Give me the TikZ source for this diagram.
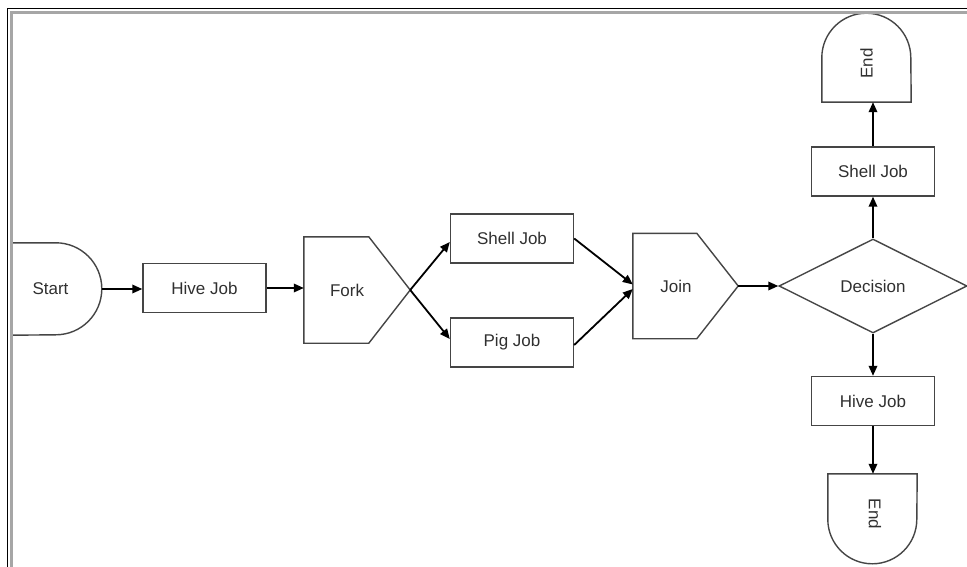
\documentclass[tikz,border=0pt]{standalone}
\usepackage{fontspec}
\setmainfont{Liberation Sans}
\usetikzlibrary{arrows.meta,shapes.geometric}
\definecolor{outline}{HTML}{454545}
\definecolor{labeltext}{HTML}{303030}
\definecolor{framegray}{HTML}{A6A6A6}
\begin{document}
\begin{tikzpicture}[x=1pt,y=-1pt,
  every node/.style={font=\fontsize{17}{20}\selectfont, text=labeltext, inner sep=0pt},
  outlined/.style={draw=outline, line width=1.4pt},
  jobbox/.style={outlined, rectangle, minimum width=123pt, minimum height=49pt},
  flow/.style={draw=black, line width=1.8pt, -{Triangle[length=10pt,width=8.5pt]}},
  shapeline/.style={draw=outline, line width=1.4pt, line join=miter}]
\useasboundingbox (0,0) rectangle (967,567);

% ---- node frames (outlines of the special shapes are drawn below)
\node[rectangle, minimum width=90pt, minimum height=92pt,
      label={[xshift=-6.5pt]center:Start}] (start) at (57,289) {};
\node[jobbox] (hive1) at (204.5,288) {Hive Job};
\node[rectangle, minimum width=106pt, minimum height=106pt,
      label={[xshift=-10pt]center:Fork}] (fork) at (357,290) {};
\node[jobbox] (shell1) at (512,238.5) {Shell Job};
\node[jobbox] (pig) at (512,342.5) {Pig Job};
\node[rectangle, minimum width=105pt, minimum height=105pt,
      label={[xshift=-9.5pt]center:Join}] (join) at (685.5,286) {};
\node[diamond, outlined, minimum width=188pt, minimum height=94pt] (dec) at (873,286) {Decision};
\node[jobbox] (shell2) at (873,171.5) {Shell Job};
\node[jobbox] (hive2) at (873,401) {Hive Job};
\node[rectangle, minimum width=89pt, minimum height=89pt,
      label={[yshift=-6pt,rotate=90]center:End}] (endA) at (866.5,57.5) {};
\node[rectangle, minimum width=89pt, minimum height=90pt,
      label={[xshift=2.5pt,yshift=5pt,rotate=-90]center:End}] (endB) at (872.5,519) {};

% ---- special shapes
\path[shapeline] (start.north west) -- ++(44pt,0)
  arc[start angle=90, end angle=-90, radius=46pt] -- (start.south west) -- cycle;
\path[shapeline] (fork.north west) -- ++(65pt,0) -- (fork.east)
  -- ([xshift=65pt]fork.south west) -- (fork.south west) -- cycle;
\path[shapeline] (join.north west) -- ++(64pt,0) -- (join.east)
  -- ([xshift=64pt]join.south west) -- (join.south west) -- cycle;
\path[shapeline] (endA.south west) -- ++(0,44.5pt)
  arc[start angle=180, end angle=0, radius=44.5pt] -- (endA.south east) -- cycle;
\path[shapeline] (endB.north west) -- ++(0,-45.5pt)
  arc[start angle=180, end angle=360, radius=44.5pt] -- (endB.north east) -- cycle;

% ---- connectors
\draw[flow] (start.east) -- (start.east -| hive1.west);
\draw[flow] (hive1.east) -- (hive1.east -| fork.west);
\draw[flow] (fork.east) -- ([yshift=-3.5pt]shell1.west);
\draw[flow] (fork.east) -- ([yshift=3.5pt]pig.west);
\draw[flow] (shell1.east) -- ([yshift=1.5pt]join.west);
\draw[flow] ([yshift=-2.5pt]pig.east) -- ([yshift=-3pt]join.west);
\draw[flow] (join.east) -- (dec.west);
\draw[flow] (dec.north) -- (shell2.south);
\draw[flow] (shell2.north) -- (shell2.north |- endA.south);
\draw[flow] (dec.south) -- (hive2.north);
\draw[flow] (hive2.south) -- (hive2.south |- endB.north);

% ---- page frame
\draw[framegray, line width=3pt] (11.5,567) -- (11.5,13) -- (967,13);
\draw[black, line width=1pt] (7,567) -- (7,9) -- (967,9);
\end{tikzpicture}
\end{document}
